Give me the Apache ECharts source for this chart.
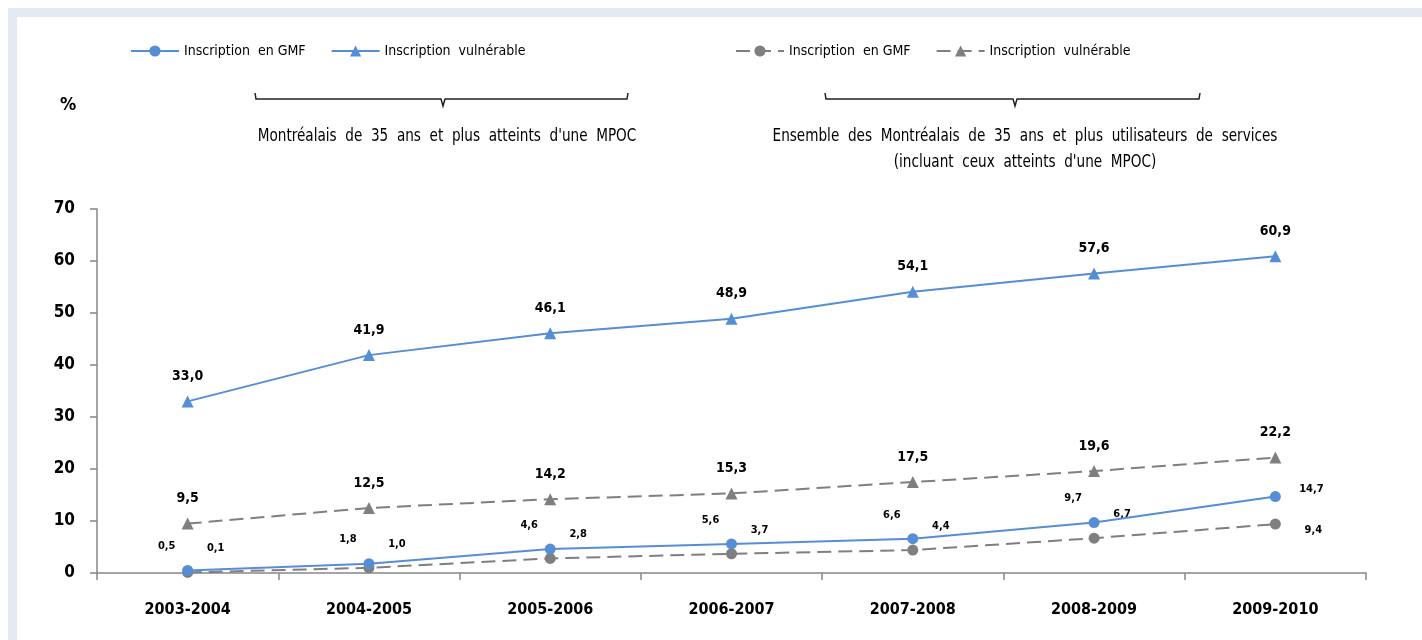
<!DOCTYPE html>
<html>
<head>
<meta charset="utf-8">
<script src="https://cdn.jsdelivr.net/npm/echarts@6/dist/echarts.min.js"></script>
<style>
html,body{margin:0;padding:0;background:#fff;}
#chart{width:1422px;height:640px;}
</style>
</head>
<body>
<div id="chart"></div>
<script>
const categories = ['2003-2004','2004-2005','2005-2006','2006-2007','2007-2008','2008-2009','2009-2010'];
const yTicks = [0,10,20,30,40,50,60,70];
const mpocGMF = [0.5,1.8,4.6,5.6,6.6,9.7,14.7];
const mpocVuln = [33.0,41.9,46.1,48.9,54.1,57.6,60.9];
const allGMF = [0.1,1.0,2.8,3.7,4.4,6.7,9.4];
const allVuln = [9.5,12.5,14.2,15.3,17.5,19.6,22.2];
const legendLabels = {
  mpocGMF: 'Inscription  en GMF',
  mpocVuln: 'Inscription  vulnérable',
  allGMF: 'Inscription  en GMF',
  allVuln: 'Inscription  vulnérable'
};
const groupLeft = 'Montréalais  de  35  ans  et  plus  atteints  d\'une  MPOC';
const groupRight1 = 'Ensemble  des  Montréalais  de  35  ans  et  plus  utilisateurs  de  services';
const groupRight2 = '(incluant  ceux  atteints  d\'une  MPOC)';

const FONT = "'Liberation Sans Narrow','DejaVu Sans Condensed','Roboto Condensed',sans-serif";
const BLUE = '#558ed5';
const GRAY = '#7f7f7f';
const fmt = v => v.toFixed(1).replace('.', ',');

function withLabels(arr, normalOffset, lastOffset) {
  return arr.map((v, i) => ({
    value: v,
    label: { offset: i === arr.length - 1 ? lastOffset : normalOffset }
  }));
}

const chart = echarts.init(document.getElementById('chart'));
chart.setOption({
  backgroundColor: '#ffffff',
  animation: false,
  textStyle: { fontFamily: FONT },
  legend: [
    {
      left: 130, top: 44, padding: 0, itemWidth: 48, itemHeight: 14, itemGap: 25,
      data: ['mpocGMF','mpocVuln'],
      formatter: n => legendLabels[n],
      textStyle: { fontFamily: FONT, fontSize: 14, color: '#000' }
    },
    {
      left: 735, top: 44, padding: 0, itemWidth: 48, itemHeight: 14, itemGap: 25,
      data: ['allGMF','allVuln'],
      formatter: n => legendLabels[n],
      textStyle: { fontFamily: FONT, fontSize: 14, color: '#000' }
    }
  ],
  grid: { left: 97, right: 56, top: 209, bottom: 67, containLabel: false },
  xAxis: {
    type: 'category',
    data: categories,
    boundaryGap: true,
    axisLine: { lineStyle: { color: '#868686', width: 1.5 } },
    axisTick: { show: true, alignWithLabel: false, length: 7, lineStyle: { color: '#868686', width: 1.5 } },
    axisLabel: { fontFamily: FONT, fontSize: 16, fontWeight: 'bold', color: '#000', margin: 29 },
    splitLine: { show: false }
  },
  yAxis: {
    type: 'value',
    min: 0, max: 70, interval: 10,
    axisLine: { show: true, lineStyle: { color: '#868686', width: 1.5 } },
    axisTick: { show: true, length: 7, lineStyle: { color: '#868686', width: 1.5 } },
    axisLabel: { fontFamily: FONT, fontSize: 17, fontWeight: 'bold', color: '#000', margin: 22,
      formatter: v => yTicks.includes(v) ? String(v) : '' },
    splitLine: { show: false }
  },
  graphic: [
    { type: 'rect', z: -10, shape: { x: 8, y: 8, width: 1500, height: 700 }, style: { fill: '#e3eaf4' }, silent: true },
    { type: 'rect', z: -9, shape: { x: 17, y: 17, width: 1500, height: 700 }, style: { fill: '#ffffff' }, silent: true },
    { type: 'text', x: 68, y: 105, style: { text: '%', font: "bold 18px " + FONT, fill: '#000', textAlign: 'center', textVerticalAlign: 'middle' } },
    { type: 'polyline', shape: { points: [[255,93],[256,99],[441,99],[443,106],[445,99],[627,99],[628,93]] },
      style: { stroke: '#222', lineWidth: 1.5, fill: null } },
    { type: 'polyline', shape: { points: [[825,93],[826,99],[1013,99],[1015,106],[1017,99],[1199,99],[1200,93]] },
      style: { stroke: '#222', lineWidth: 1.5, fill: null } },
    { type: 'text', x: 447, y: 136, scaleX: 0.84, style: { text: groupLeft, font: "18px " + FONT, fill: '#000', textAlign: 'center', textVerticalAlign: 'middle' } },
    { type: 'text', x: 1025, y: 136, scaleX: 0.84, style: { text: groupRight1, font: "18px " + FONT, fill: '#000', textAlign: 'center', textVerticalAlign: 'middle' } },
    { type: 'text', x: 1025, y: 162, scaleX: 0.84, style: { text: groupRight2, font: "18px " + FONT, fill: '#000', textAlign: 'center', textVerticalAlign: 'middle' } }
  ],
  series: [
    {
      name: 'mpocGMF', type: 'line', data: withLabels(mpocGMF, [-21,-24], [36,-7]),
      symbol: 'circle', symbolSize: 11,
      lineStyle: { color: BLUE, width: 2 }, itemStyle: { color: BLUE },
      label: { show: true, position: 'inside', formatter: p => fmt(p.value), fontFamily: FONT, fontSize: 11, fontWeight: 'bold', color: '#000' },
      z: 4
    },
    {
      name: 'mpocVuln', type: 'line', data: mpocVuln,
      symbol: 'triangle', symbolSize: 12,
      lineStyle: { color: BLUE, width: 2 }, itemStyle: { color: BLUE },
      label: { show: true, position: 'top', distance: 12, formatter: p => fmt(p.value), fontFamily: FONT, fontSize: 14, fontWeight: 'bold', color: '#000' },
      z: 4
    },
    {
      name: 'allGMF', type: 'line', data: withLabels(allGMF, [28,-24], [38,6]),
      symbol: 'circle', symbolSize: 11,
      lineStyle: { color: GRAY, width: 2, type: [14,7] }, itemStyle: { color: GRAY },
      label: { show: true, position: 'inside', formatter: p => fmt(p.value), fontFamily: FONT, fontSize: 11, fontWeight: 'bold', color: '#000' },
      z: 3
    },
    {
      name: 'allVuln', type: 'line', data: allVuln,
      symbol: 'triangle', symbolSize: 12,
      lineStyle: { color: GRAY, width: 2, type: [14,7] }, itemStyle: { color: GRAY },
      label: { show: true, position: 'top', distance: 12, formatter: p => fmt(p.value), fontFamily: FONT, fontSize: 14, fontWeight: 'bold', color: '#000' },
      z: 3
    }
  ]
});
</script>
</body>
</html>
